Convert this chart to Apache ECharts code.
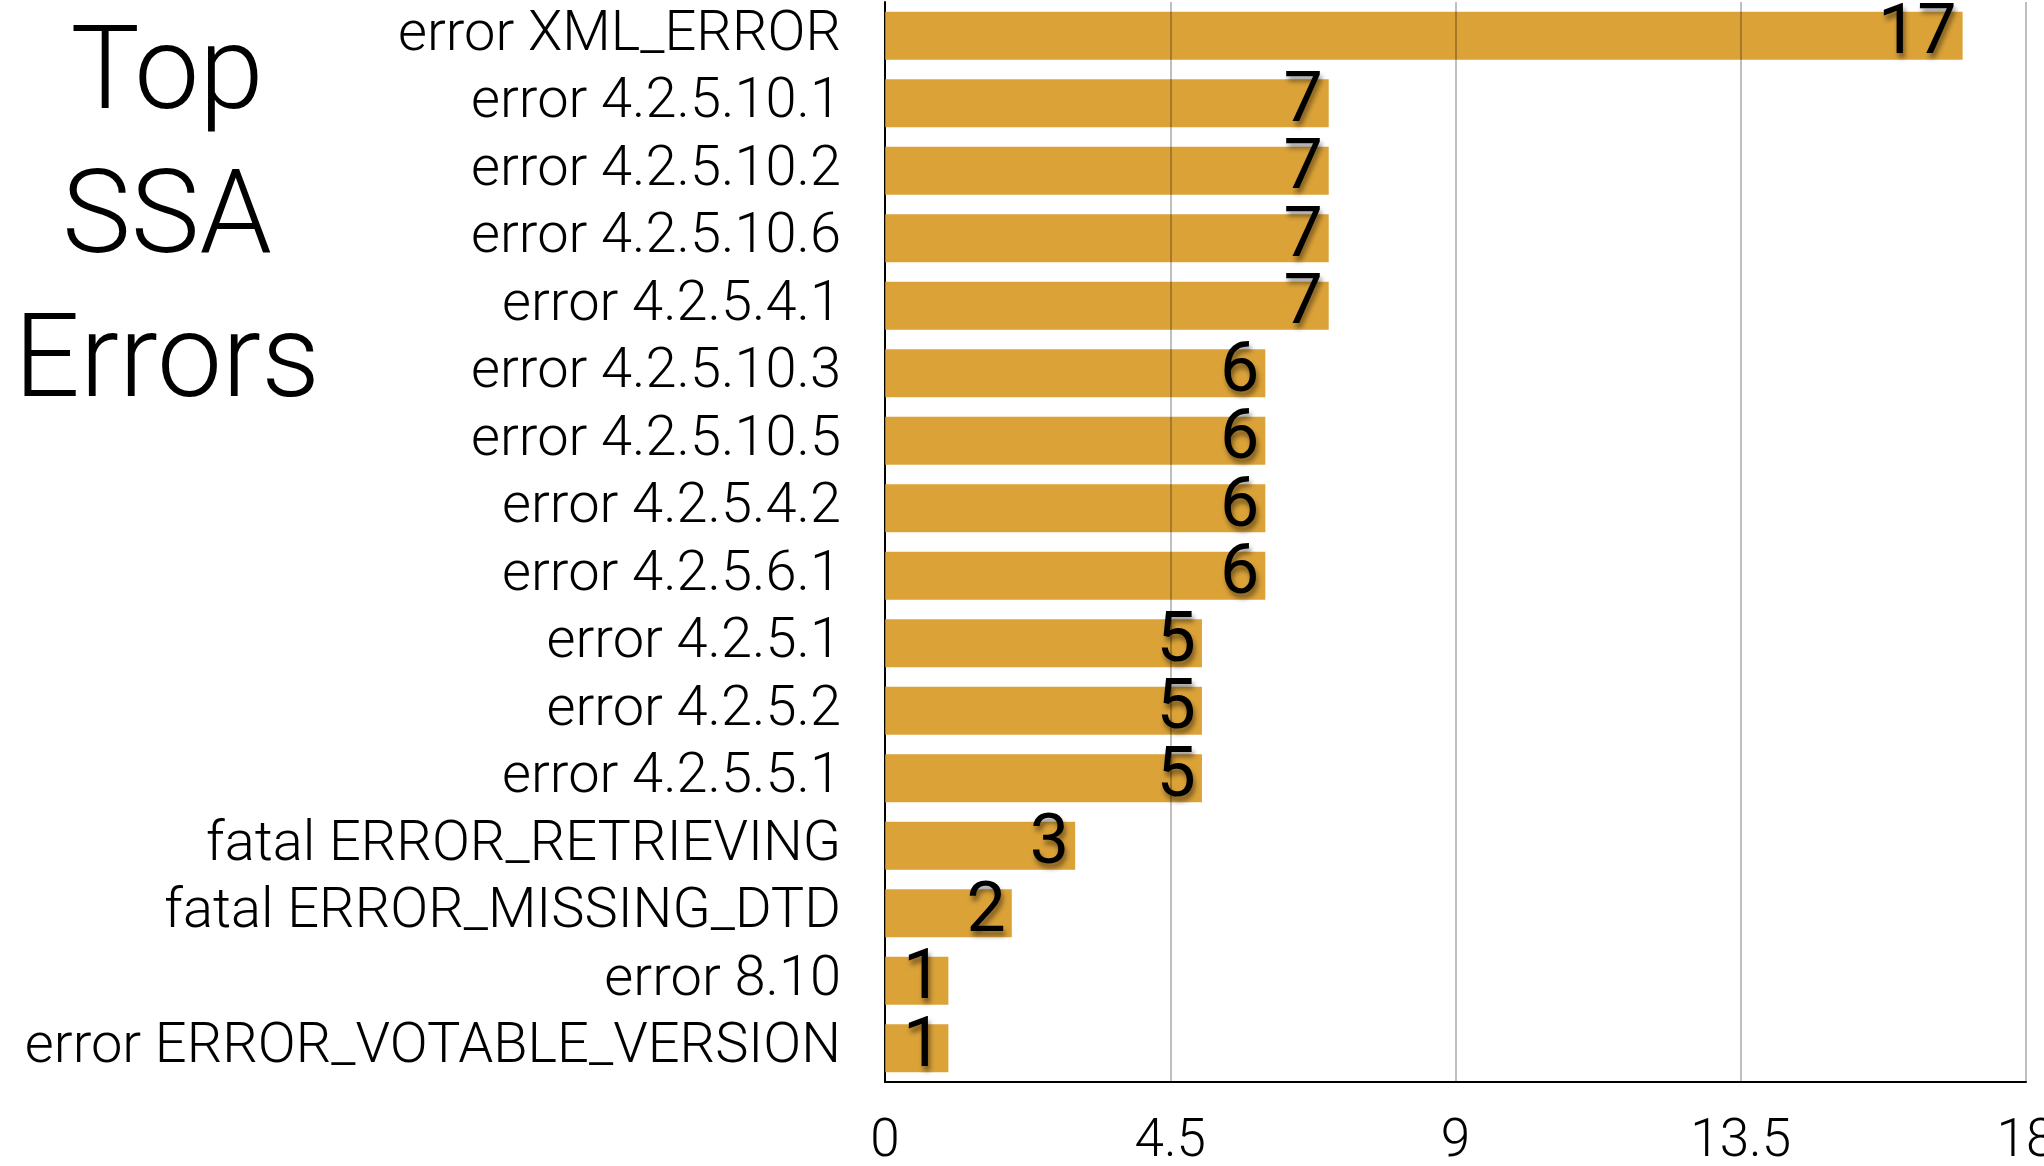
<!DOCTYPE html>
<html>
<head>
<meta charset="utf-8">
<script src="https://cdn.jsdelivr.net/npm/echarts@6/dist/echarts.min.js"></script>
<style>
html,body{margin:0;padding:0;background:#fff;}
#chart{width:2044px;height:1166px;}
</style>
</head>
<body>
<div id="chart"></div>
<script>
const categories = [
  "error XML_ERROR",
  "error 4.2.5.10.1",
  "error 4.2.5.10.2",
  "error 4.2.5.10.6",
  "error 4.2.5.4.1",
  "error 4.2.5.10.3",
  "error 4.2.5.10.5",
  "error 4.2.5.4.2",
  "error 4.2.5.6.1",
  "error 4.2.5.1",
  "error 4.2.5.2",
  "error 4.2.5.5.1",
  "fatal ERROR_RETRIEVING",
  "fatal ERROR_MISSING_DTD",
  "error 8.10",
  "error ERROR_VOTABLE_VERSION"
];
const counts = [17, 7, 7, 7, 7, 6, 6, 6, 6, 5, 5, 5, 3, 2, 1, 1];
const titleText = "Top\nSSA\nErrors";
const xMin = 0, xMax = 18, xStep = 4.5;

const FONT = "Roboto";
const chart = echarts.init(document.getElementById('chart'), null, {renderer: 'canvas'});
chart.setOption({
  backgroundColor: '#ffffff',
  animation: false,
  title: {
    text: titleText,
    left: 162,
    top: 2,
    textAlign: 'center',
    textStyle: {
      fontFamily: FONT,
      fontWeight: 300,
      fontSize: 116,
      lineHeight: 144,
      color: '#000'
    }
  },
  grid: {left: 885, right: 18, top: 2, bottom: 84, containLabel: false, outerBoundsMode: 'none'},
  xAxis: {
    type: 'value',
    min: xMin,
    max: xMax,
    interval: xStep,
    z: 3,
    axisLine: {show: true, lineStyle: {color: '#000', width: 2}},
    axisTick: {show: false},
    splitLine: {show: true, lineStyle: {color: 'rgba(0,0,0,0.25)', width: 2}},
    axisLabel: {
      fontFamily: FONT,
      fontWeight: 300,
      fontSize: 53,
      color: '#000',
      margin: 34,
      formatter: v => String(v)
    }
  },
  yAxis: {
    type: 'category',
    data: categories,
    inverse: true,
    axisLine: {show: true, lineStyle: {color: '#000', width: 2}},
    axisTick: {show: false},
    axisLabel: {
      interval: 0,
      fontFamily: FONT,
      fontWeight: 300,
      fontSize: 56,
      color: '#000',
      margin: 44
    }
  },
  series: [{
    type: 'bar',
    data: counts,
    barCategoryGap: '29%',
    itemStyle: {color: '#DBA238'},
    label: {
      show: true,
      position: 'insideRight',
      distance: 6,
      fontFamily: FONT,
      fontWeight: 400,
      fontSize: 70,
      color: '#000',
      textShadowColor: 'rgba(0,0,0,0.45)',
      textShadowBlur: 5,
      textShadowOffsetX: 2,
      textShadowOffsetY: 5
    }
  }]
});
</script>
</body>
</html>
